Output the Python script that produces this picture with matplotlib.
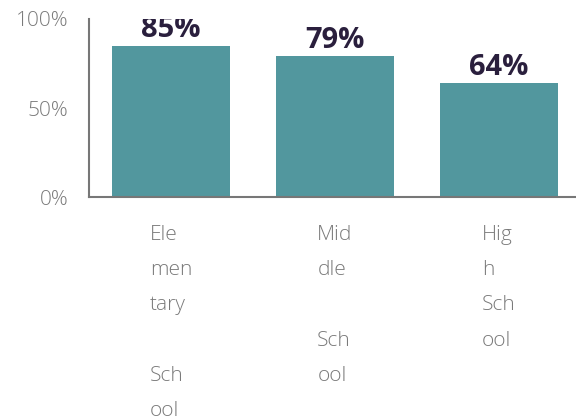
import matplotlib
matplotlib.use("Agg")
import matplotlib.pyplot as plt

# data
categories = ["Ele\nmen\ntary\n\nSch\nool", "Mid\ndle\n\nSch\nool", "Hig\nh\nSch\nool"]
values = [85, 79, 64]
value_labels = ["85%", "79%", "64%"]
ytick_values = [0, 50, 100]
ytick_labels = ["0%", "50%", "100%"]

BAR_COLOR = "#52979e"
TEXT_GRAY = "#7a7a7a"
LABEL_DARK = "#2a1f3d"

plt.rcParams['font.family'] = ['Open Sans', 'DejaVu Sans']

fig = plt.figure(figsize=(5.76, 4.19), dpi=100)
ax = fig.add_axes([89 / 576, 1 - 197 / 419, 1 - 89 / 576, 178 / 419])

x = list(range(len(categories)))
bars = ax.bar(x, values, width=0.72, color=BAR_COLOR)

# value labels, clipped to the plot area like the original
for xi, v, lab in zip(x, values, value_labels):
    ax.annotate(lab, (xi, v), xytext=(0, 6), textcoords="offset points",
                ha="center", va="baseline", fontsize=21, fontweight="bold",
                color=LABEL_DARK, clip_on=True)

ax.set_xlim(-0.5, 2.47)
ax.set_ylim(0, 100)
ax.set_yticks(ytick_values)
ax.set_yticklabels(ytick_labels, fontweight="light")
ax.set_xticks(x)
ax.set_xticklabels(categories, multialignment="left", linespacing=2.02,
                   fontweight="light")

ax.tick_params(axis="y", length=0, pad=15, labelsize=15, labelcolor=TEXT_GRAY)
ax.tick_params(axis="x", length=0, pad=20, labelsize=15, labelcolor=TEXT_GRAY)

for side in ["top", "right"]:
    ax.spines[side].set_visible(False)
for side in ["left", "bottom"]:
    ax.spines[side].set_color("#777777")
    ax.spines[side].set_linewidth(1.5)

fig.savefig("out.png", dpi=100)
